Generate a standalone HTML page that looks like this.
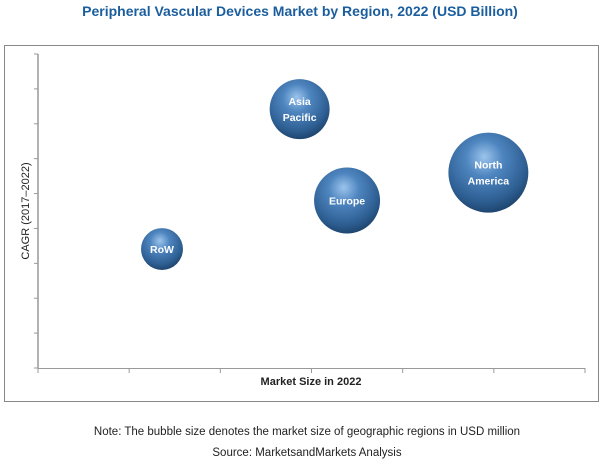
<!DOCTYPE html>
<html><head><meta charset="utf-8"><style>
body{margin:0;background:#fff;width:600px;height:464px;overflow:hidden;font-family:"Liberation Sans",sans-serif}
svg{display:block}
</style></head><body>
<svg id="chart" width="600" height="464">
<defs>
<radialGradient id="bg" cx="45%" cy="35%" r="65%" fx="45%" fy="30%">
<stop offset="0" stop-color="#9cc4ec"/>
<stop offset="0.35" stop-color="#4f86c0"/>
<stop offset="0.8" stop-color="#2e5f93"/>
<stop offset="1" stop-color="#1f4670"/>
</radialGradient>
</defs>
<text x="300" y="16" text-anchor="middle" font-size="14" font-weight="bold" fill="#1b5e9e">Peripheral Vascular Devices Market by Region, 2022 (USD Billion)</text>
<rect x="4.5" y="45.5" width="594" height="356" fill="none" stroke="#888"/>
<g id="axes"></g>
<g id="bubbles"></g>
<text transform="translate(29,211) rotate(-90)" text-anchor="middle" font-size="11" fill="#222">CAGR (2017–2022)</text>
<text x="311" y="385" text-anchor="middle" font-size="11" font-weight="bold" fill="#222">Market Size in 2022</text>
<text x="307" y="435" text-anchor="middle" font-size="11.5" fill="#222">Note: The bubble size denotes the market size of geographic regions in USD million</text>
<text x="307" y="456" text-anchor="middle" font-size="11.5" fill="#222">Source: MarketsandMarkets Analysis</text>
</svg>
<script>
const regions = ["RoW", "Asia Pacific", "Europe", "North America"];
const marketSize = [1.36, 2.87, 3.39, 4.94];
const cagr = [3.41, 7.42, 4.8, 5.6];
const bubbleSize = [0.44, 0.9, 1.09, 1.6];
const xTicks = [0, 1, 2, 3, 4, 5, 6];
const yTicks = [0, 1, 2, 3, 4, 5, 6, 7, 8, 9];

const NS = "http://www.w3.org/2000/svg";
const X0 = 38, X1 = 585, Y0 = 368, Y1 = 54;
const xs = v => X0 + (v - 0) / 6 * (X1 - X0);
const ys = v => Y0 - (v - 0) / 9 * (Y0 - Y1);
const rs = v => Math.sqrt(v) * 31.6;
function mk(tag, attrs, parent) {
  const e = document.createElementNS(NS, tag);
  for (const k in attrs) e.setAttribute(k, attrs[k]);
  parent.appendChild(e);
  return e;
}
const axes = document.getElementById("axes");
let l = mk("line", {x1: X0, y1: ys(9), x2: X0, y2: Y0, stroke: "#666"}, axes);


l = mk("line", {x1: X0, y1: Y0 + .5, x2: X1, y2: Y0 + .5, stroke: "#999"}, axes);


yTicks.forEach(t => {
  const e = mk("line", {x1: X0 - 4, y1: ys(t), x2: X0, y2: ys(t), stroke: "#999"}, axes);
  
  
});
xTicks.forEach(t => {
  const e = mk("line", {x1: xs(t), y1: Y0, x2: xs(t), y2: Y0 + 5, stroke: "#999"}, axes);
  
  
});
const bg = document.getElementById("bubbles");
regions.forEach((name, i) => {
  const g = mk("g", {}, bg);
  
  
  const cx = xs(marketSize[i]), cy = ys(cagr[i]), r = rs(bubbleSize[i]);
  mk("circle", {cx: cx, cy: cy, r: r, fill: "url(#bg)"}, g);
  const words = name.split(" ");
  words.forEach((w, j) => {
    const t = mk("text", {x: cx, y: cy + 4 + (j - (words.length - 1) / 2) * 16, "text-anchor": "middle", "font-size": "10.5", "font-weight": "bold", fill: "#fff"}, g);
    t.textContent = w;
  });
});
</script>
</body></html>
